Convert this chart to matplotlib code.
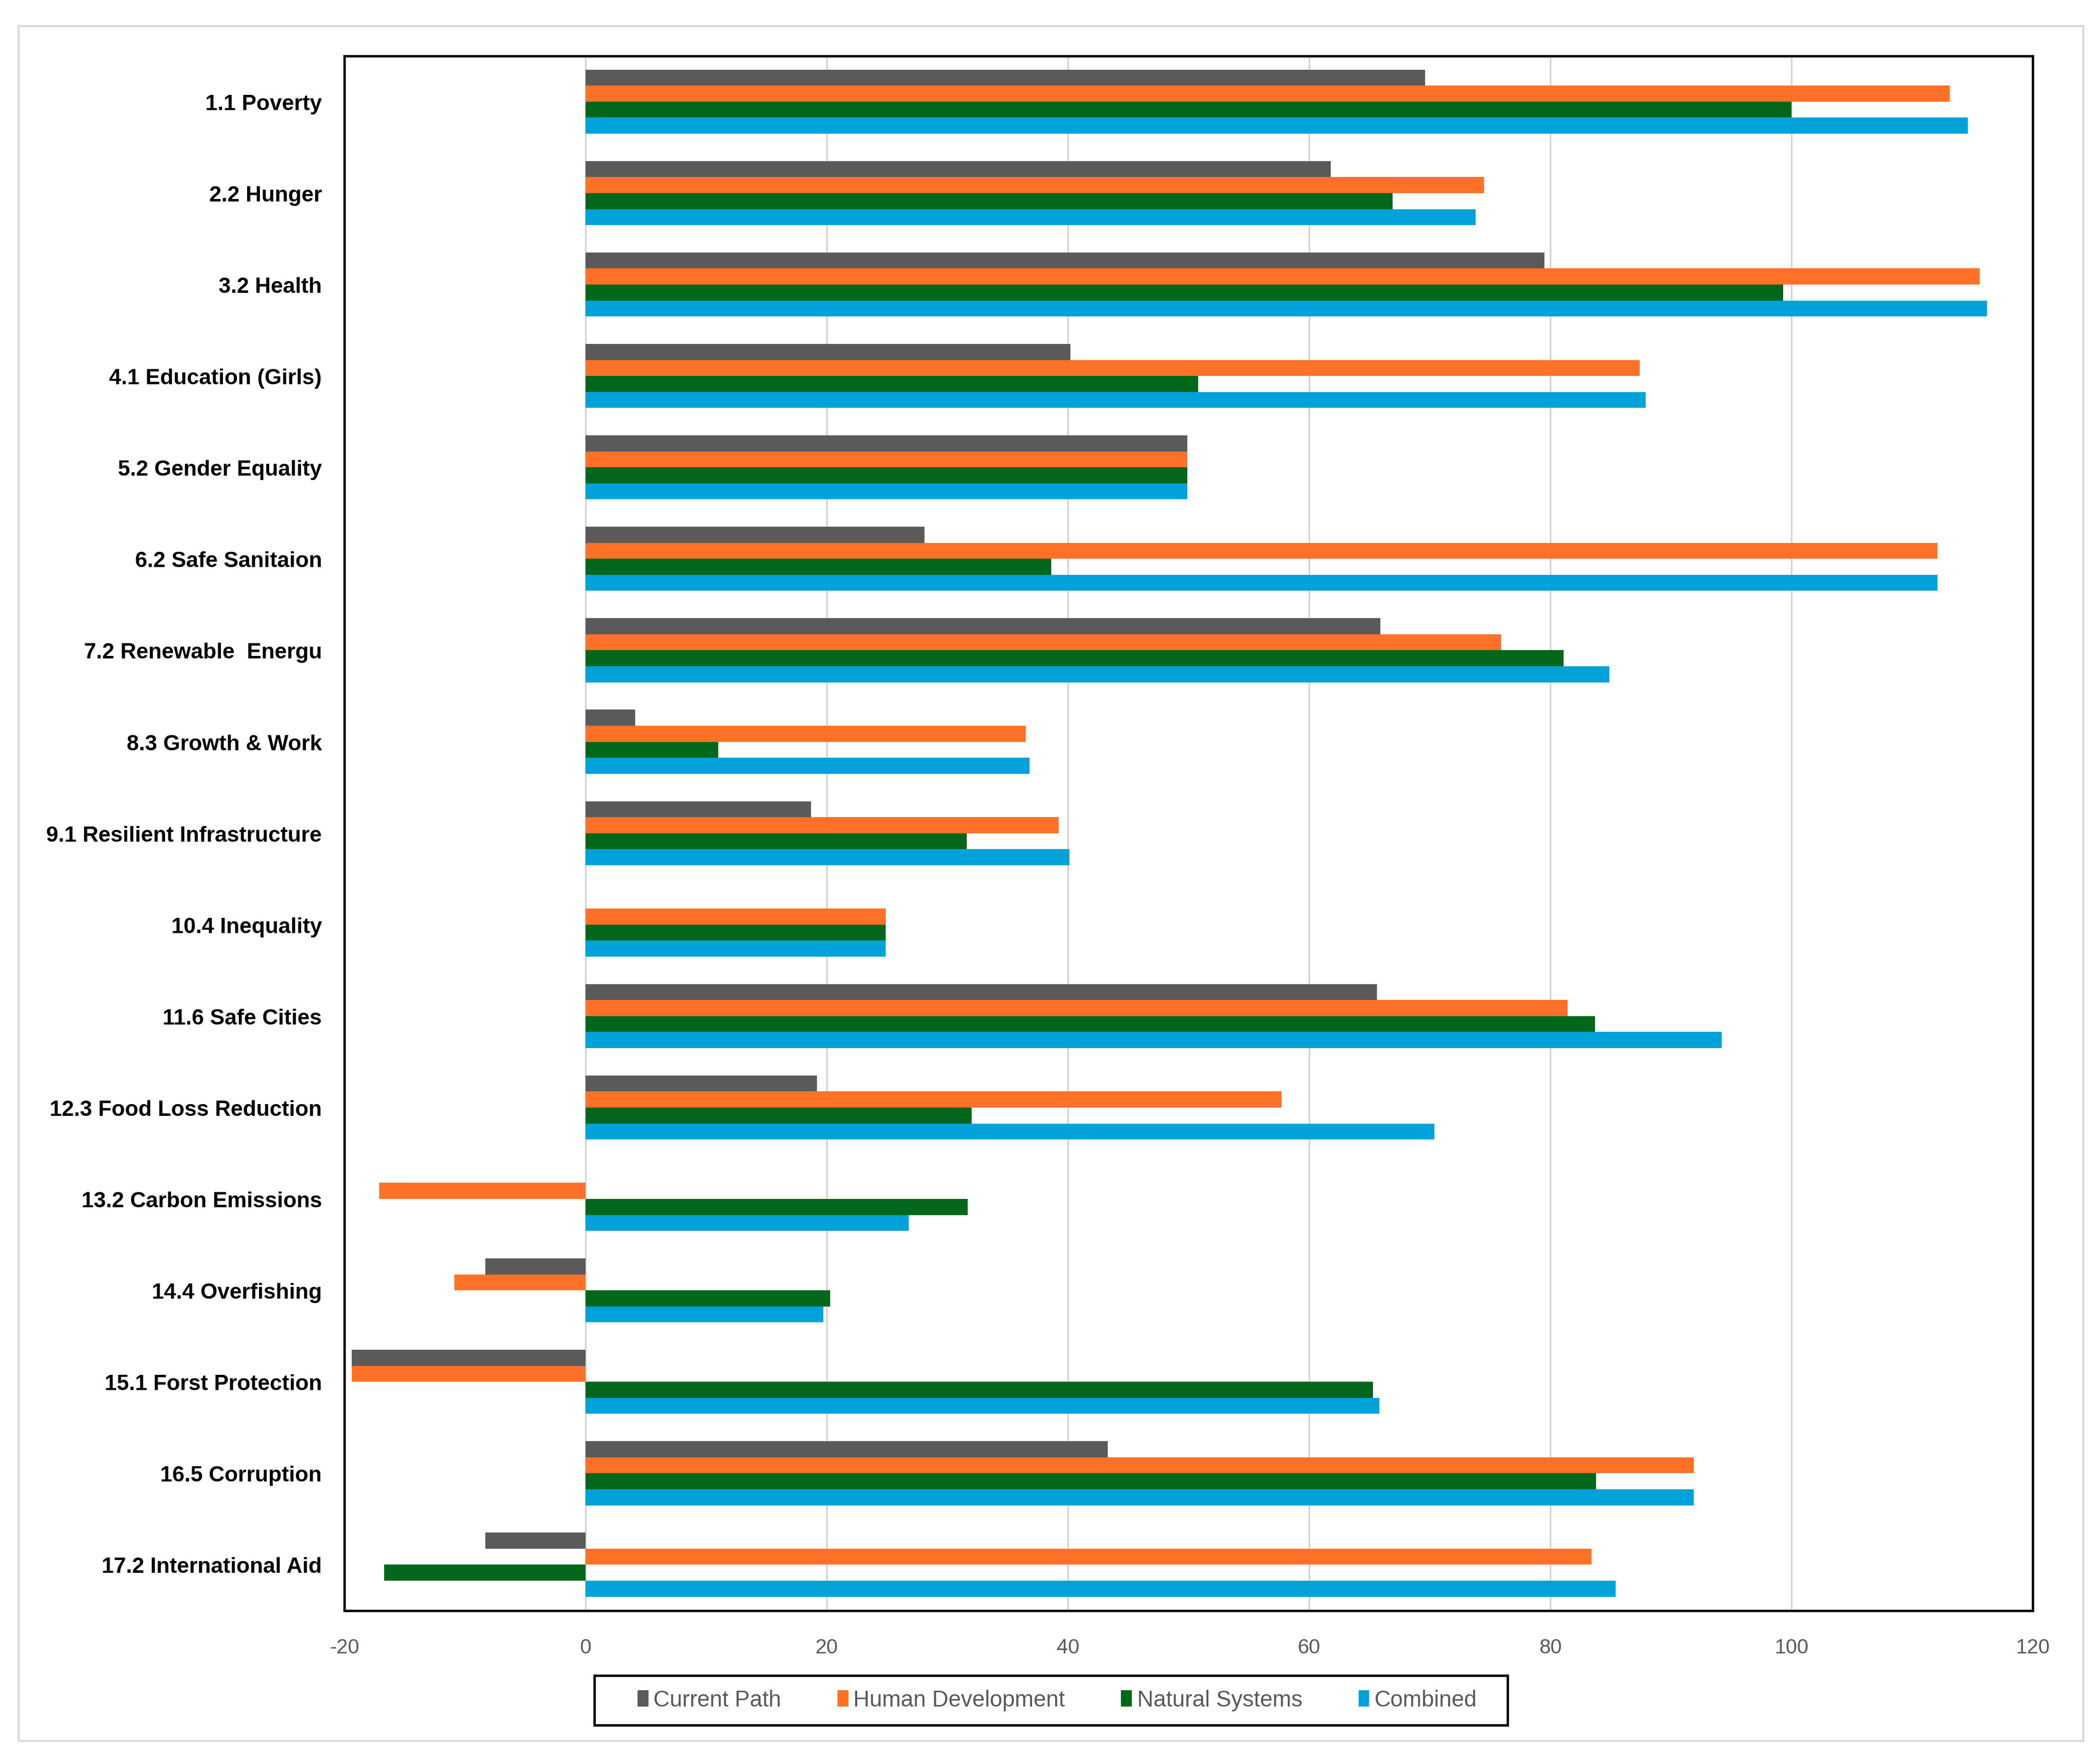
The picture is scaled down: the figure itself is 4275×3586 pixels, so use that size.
import matplotlib
matplotlib.use("Agg")
import matplotlib.pyplot as plt
import matplotlib.patches as mpatches
import numpy as np

categories = ["1.1 Poverty", "2.2 Hunger", "3.2 Health", "4.1 Education (Girls)",
              "5.2 Gender Equality", "6.2 Safe Sanitaion", "7.2 Renewable  Energu",
              "8.3 Growth & Work", "9.1 Resilient Infrastructure", "10.4 Inequality",
              "11.6 Safe Cities", "12.3 Food Loss Reduction", "13.2 Carbon Emissions",
              "14.4 Overfishing", "15.1 Forst Protection", "16.5 Corruption",
              "17.2 International Aid"]

series_names = ["Current Path", "Human Development", "Natural Systems", "Combined"]

current_path = [69.6, 61.8, 79.5, 40.2, 49.9, 28.1, 65.9, 4.1, 18.7, 0.0,
                65.6, 19.2, 0.0, -8.3, -19.4, 43.3, -8.3]
human_development = [113.1, 74.5, 115.6, 87.4, 49.9, 112.1, 75.9, 36.5, 39.2, 24.9,
                     81.4, 57.7, -17.1, -10.9, -19.4, 91.9, 83.4]
natural_systems = [100.0, 66.9, 99.3, 50.8, 49.9, 38.6, 81.1, 11.0, 31.6, 24.9,
                   83.7, 32.0, 31.7, 20.3, 65.3, 83.8, -16.7]
combined = [114.6, 73.8, 116.2, 87.9, 49.9, 112.1, 84.9, 36.8, 40.1, 24.9,
            94.2, 70.4, 26.8, 19.7, 65.8, 91.9, 85.4]

x_ticks = [-20, 0, 20, 40, 60, 80, 100, 120]

colors = ["#5A5A5A", "#FF7127", "#02671A", "#00A2D9"]

fam = "Liberation Sans"

W, H = 4275, 3587
dpi = 100
fig = plt.figure(figsize=(W / dpi, H / dpi), dpi=dpi)
fig.patch.set_facecolor("white")

# outer chart-area border
fig.add_artist(mpatches.Rectangle((0.009, 0.012), 0.983, 0.973, transform=fig.transFigure,
                                  fill=False, edgecolor="#D9D9D9", linewidth=3))

ax = fig.add_axes([0.164, 0.086, 0.804, 0.882])

values = [current_path, human_development, natural_systems, combined]
n = len(categories)
y = np.arange(n)
bar_h = 0.175
offsets = [-1.5 * bar_h, -0.5 * bar_h, 0.5 * bar_h, 1.5 * bar_h]
for vals, off, col, name in zip(values, offsets, colors, series_names):
    ax.barh(y + off, vals, height=bar_h, color=col, label=name, zorder=3)

ax.set_xlim(-20, 120)
ax.set_ylim(n - 0.5, -0.5)
ax.set_xticks(x_ticks)
ax.set_xticklabels([str(t) for t in x_ticks], fontsize=30, family=fam, color="#595959")
ax.set_yticks(y)
ax.set_yticklabels(categories, fontsize=32, family=fam, fontweight="bold", color="#000000")
ax.tick_params(axis="both", length=0)
ax.tick_params(axis="x", pad=40)
ax.tick_params(axis="y", pad=33)
ax.xaxis.grid(True, color="#D0D0D0", linewidth=2.2, zorder=0)
ax.yaxis.grid(False)
ax.set_axisbelow(True)
for s in ax.spines.values():
    s.set_color("black")
    s.set_linewidth(3.5)

# legend frame (drawn to match the reference box)
fig.add_artist(mpatches.Rectangle((0.283, 0.021), 0.435, 0.028, transform=fig.transFigure,
                                  fill=False, edgecolor="black", linewidth=3.5))
handles = [mpatches.Patch(color=c) for c in colors]
leg = fig.legend(handles, series_names, loc="center", bbox_to_anchor=(0.5035, 0.035),
                 ncol=4, frameon=False,
                 prop={"family": fam, "size": 33}, handlelength=0.45, handleheight=0.7,
                 handletextpad=0.25, columnspacing=2.5, borderpad=0.3)
for t in leg.get_texts():
    t.set_color("#595959")

fig.savefig("out.png", dpi=dpi, facecolor="white")
